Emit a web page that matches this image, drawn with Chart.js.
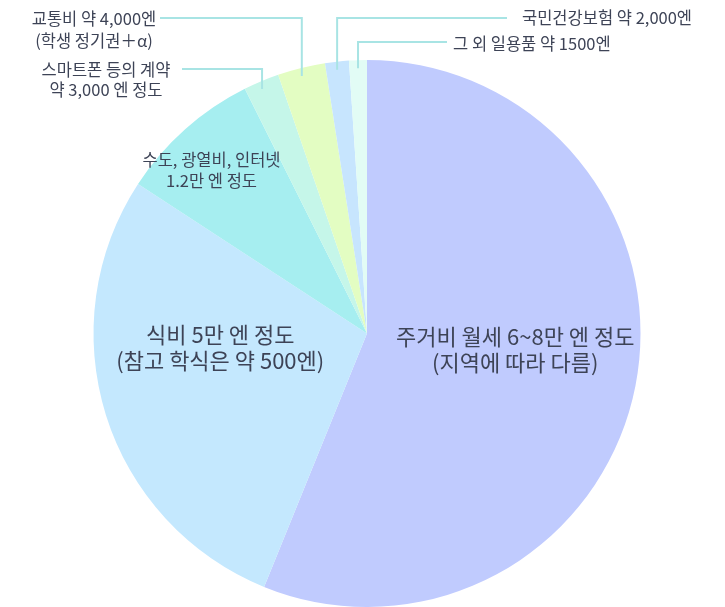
<!DOCTYPE html>
<html>
<head>
    <meta charset='UTF-8'>
    <title></title>
    <style>
        body { margin: 0; background: #fff; }
        #chart-container { width: 725px; height: 607px; }
    </style>
</head>
<body>
    <script src="https://cdn.jsdelivr.net/npm/chart.js@4.4.0/dist/chart.umd.min.js"></script>
    <div id="chart-container">
        <canvas id="chart" width="725" height="607"></canvas>
    </div>
    <script>
        // data (monthly yen)
        let categories = ["주거비", "식비", "수도·광열비·인터넷", "스마트폰", "교통비", "국민건강보험", "그 외 일용품"];
        let amounts = [80000, 40000, 12000, 3000, 4000, 2000, 1500];
        let labelLines = [
            ["주거비 월세 6~8만 엔 정도", "(지역에 따라 다름)"],
            ["식비 5만 엔 정도", "(참고 학식은 약 500엔)"],
            ["수도, 광열비, 인터넷", "1.2만 엔 정도"],
            ["스마트폰 등의 계약", "약 3,000 엔 정도"],
            ["교통비 약 4,000엔", "(학생 정기권＋α)"],
            ["국민건강보험 약 2,000엔"],
            ["그 외 일용품 약 1500엔"]
        ];
        let colors = ["#c0cbfe", "#c4e8fe", "#a6eef0", "#c5f6e9", "#e3fdc2", "#c7e5fe", "#e2fcf5"];

        // how each label is placed
        // inside: offset from slice centre; outside: elbow line to text
        let labelPlace = [
            { inside: true, dx: 14, dy: -10, r: 0.5, size: 22, lh: 26 },
            { inside: true, dx: -11, dy: -28, r: 0.52, size: 22, lh: 26 },
            { inside: true, dx: -10, dy: 0, r: 0.8, size: 16.5, lh: 21 },
            { inside: false, lineY: 69, textX: 106, textY: 70, lineEnd: 182, align: "center", size: 16.5, lh: 20 },
            { inside: false, lineY: 18, textX: 94, textY: 19, lineEnd: 160, align: "center", size: 16.5, lh: 22 },
            { inside: false, lineY: 18, textX: 522, textY: 18, lineEnd: 507, align: "left", size: 16.5, lh: 22 },
            { inside: false, lineY: 42, textX: 453, textY: 44, lineEnd: 447, align: "left", size: 16.5, lh: 22 }
        ];

        const FONT = "'Noto Sans CJK KR', 'Noto Sans', sans-serif";
        const TEXT_COLOR = "#3d4356";
        const LINE_COLOR = "#a8e4e4";

        let pieLabels = {
            id: "pieLabels",
            afterDraw(chart) {
                let ctx = chart.ctx;
                let meta = chart.getDatasetMeta(0);
                ctx.save();
                meta.data.forEach(function(arc, i) {
                    let p = labelPlace[i];
                    let lines = labelLines[i];
                    let mid = (arc.startAngle + arc.endAngle) / 2;
                    ctx.fillStyle = TEXT_COLOR;
                    ctx.font = p.size + "px " + FONT;
                    ctx.textBaseline = "middle";
                    if (p.inside) {
                        let cx = arc.x + Math.cos(mid) * arc.outerRadius * p.r + p.dx;
                        let cy = arc.y + Math.sin(mid) * arc.outerRadius * p.r + p.dy;
                        ctx.textAlign = "center";
                        let y0 = cy - (lines.length - 1) * p.lh / 2;
                        lines.forEach(function(t, k) {
                            ctx.fillText(t, cx, y0 + k * p.lh);
                        });
                    } else {
                        let ax = arc.x + Math.cos(mid) * (arc.outerRadius - 2);
                        let ay = arc.y + Math.sin(mid) * (arc.outerRadius - 2);
                        ctx.strokeStyle = LINE_COLOR;
                        ctx.lineWidth = 2;
                        ctx.beginPath();
                        ctx.moveTo(ax, ay + 6);
                        ctx.lineTo(ax, p.lineY);
                        ctx.lineTo(p.lineEnd, p.lineY);
                        ctx.stroke();
                        ctx.textAlign = p.align;
                        lines.forEach(function(t, k) {
                            ctx.fillText(t, p.textX, p.textY + k * p.lh);
                        });
                    }
                });
                ctx.restore();
            }
        };

        let context = document.getElementById("chart").getContext("2d");
        let chart = new Chart(context, {
            type: "pie",
            data: {
                labels: categories,
                datasets: [{
                    data: amounts,
                    backgroundColor: colors,
                    borderWidth: 0
                }]
            },
            options: {
                responsive: false,
                animation: false,
                layout: { padding: { top: 60, left: 9, right: 0, bottom: 0 } },
                plugins: {
                    legend: { display: false },
                    tooltip: { enabled: false }
                }
            },
            plugins: [pieLabels]
        });
    </script>
</body>
</html>
